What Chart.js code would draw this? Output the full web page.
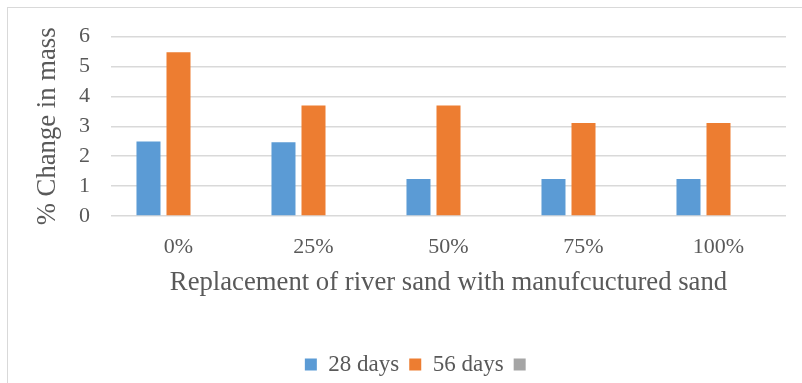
<!DOCTYPE html>
<html>
<head>
<meta charset="utf-8">
<title>Change in mass</title>
<script src="https://cdn.jsdelivr.net/npm/chart.js@4.4.1/dist/chart.umd.min.js"></script>
<style>
  html, body { margin: 0; padding: 0; background: #fff; overflow: hidden; }
  #frame {
    position: absolute; left: 7px; top: 7px;
    width: 826px; height: 390px;
    border: 1px solid #d9d9d9;
  }
</style>
</head>
<body>
<div id="frame"><canvas id="massChart"></canvas></div>
<script>
// mass change (%) per replacement level
const replacementLevels = ['0%', '25%', '50%', '75%', '100%'];
const days28 = [2.49, 2.47, 1.24, 1.24, 1.24];
const days56 = [5.48, 3.70, 3.70, 3.11, 3.11];
const emptySeries = [null, null, null, null, null];
const yMin = 0, yMax = 6, yStep = 1;

const SERIF = "'Liberation Serif', 'Times New Roman', serif";
const TEXT = '#595959';
const GRID = '#d9d9d9';

Chart.defaults.font.family = SERIF;
Chart.defaults.color = TEXT;

new Chart(document.getElementById('massChart'), {
    type: 'bar',
    data: {
        labels: replacementLevels,
        datasets: [
            { label: '28 days', data: days28, backgroundColor: '#5b9bd5', yAxisID: 'y' },
            { label: '56 days', data: days56, backgroundColor: '#ed7d31', yAxisID: 'y' },
            { label: '', data: emptySeries, backgroundColor: '#a5a5a5', yAxisID: 'y' }
        ]
    },
    options: {
        responsive: true,
        maintainAspectRatio: false,
        animation: false,
        categoryPercentage: 0.667,
        barPercentage: 0.8,
        layout: { padding: { top: 28.7, left: 0, right: 0, bottom: 12 } },
        scales: {
            x: {
                grid: { display: false, drawTicks: false },
                border: { display: false },
                ticks: { padding: 18, font: { size: 22 }, color: TEXT },
                title: {
                    display: true,
                    text: 'Replacement of river sand with manufcuctured sand',
                    font: { size: 26.7 },
                    color: TEXT,
                    padding: { top: 0, bottom: 44 }
                },
                afterFit: axis => { axis.height = 127; }
            },
            y: {
                min: yMin,
                max: yMax,
                ticks: {
                    stepSize: yStep,
                    autoSkip: false,
                    maxTicksLimit: 7,
                    padding: 21,
                    // small line height so the top label doesn't push the plot down
                    font: { size: 22, lineHeight: 0.6 },
                    color: TEXT
                },
                grid: { color: GRID, lineWidth: 1.5, drawTicks: false },
                border: { display: false },
                title: {
                    display: true,
                    text: '% Change in mass',
                    font: { size: 26.7 },
                    color: TEXT,
                    padding: { top: 24, bottom: 0 }
                },
                afterFit: axis => { axis.width = 103; }
            },
            // keeps the plot clear of the right edge
            yRight: {
                type: 'linear',
                position: 'right',
                grid: { display: false },
                ticks: { display: false },
                border: { display: false },
                afterFit: axis => { axis.width = 48; }
            }
        },
        plugins: {
            tooltip: { enabled: false },
            legend: {
                position: 'bottom',
                labels: {
                    boxWidth: 12,
                    boxHeight: 12,
                    padding: 10,
                    font: { size: 23 },
                    color: TEXT
                }
            }
        }
    }
});
</script>
</body>
</html>
